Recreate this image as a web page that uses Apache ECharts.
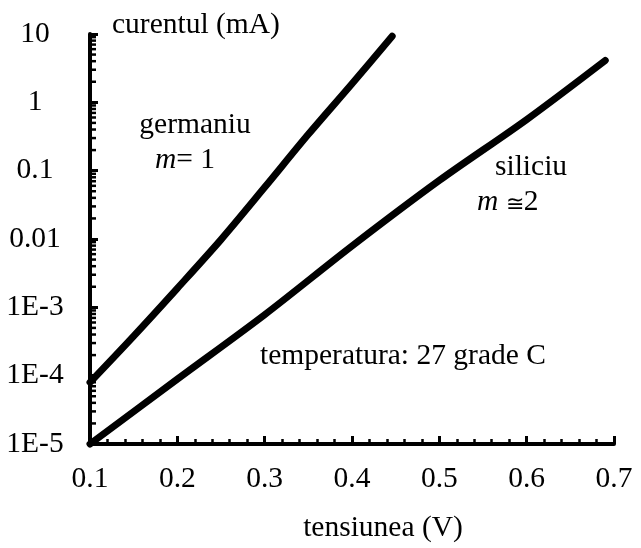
<!DOCTYPE html>
<html>
<head>
<meta charset="utf-8">
<script src="https://cdn.jsdelivr.net/npm/echarts@6/dist/echarts.min.js"></script>
<style>
  html, body { margin: 0; padding: 0; background: #fff; }
  #chart { width: 641px; height: 548px; }
</style>
</head>
<body>
<div id="chart"></div>
<script>
// tensiunea (V) pe x, curentul (mA) pe y (log)
var geX = [0.1, 0.15, 0.2, 0.25, 0.3, 0.35, 0.4, 0.446];
var geY = [8e-5, 3.8e-4, 1.9e-3, 9.8e-3, 0.057, 0.34, 1.87, 9.3];
var siX = [0.1, 0.2, 0.3, 0.4, 0.5, 0.6, 0.69];
var siY = [1e-5, 8.9e-5, 7.8e-4, 7.9e-3, 0.072, 0.56, 4.1];

// etichete axa y, dupa exponent
var yTickLabels = { '-5': '1E-5', '-4': '1E-4', '-3': '1E-3', '-2': '0.01', '-1': '0.1', '0': '1', '1': '10' };
var yDecades = [1e-5, 1e-4, 1e-3, 1e-2, 1e-1, 1];
var yMinorFactors = [2, 3, 4, 5, 6, 7, 8, 9];

var font = 'Liberation Serif';
var fs = 29.5;
var fontStr = fs + 'px "' + font + '"';

function pairs(xs, ys) {
    var out = [];
    for (var i = 0; i < xs.length; i++) {
        out.push([xs[i], ys[i]]);
    }
    return out;
}

var minorData = [];
for (var d = 0; d < yDecades.length; d++) {
    for (var k = 0; k < yMinorFactors.length; k++) {
        minorData.push([0.1, yDecades[d] * yMinorFactors[k]]);
    }
}

var chart = echarts.init(document.getElementById('chart'));

var lineStyle = { color: '#000', width: 7, cap: 'round', join: 'round' };

var option = {
    animation: false,
    grid: { left: 90, right: 27, top: 34, bottom: 104, containLabel: false },
    xAxis: {
        type: 'value',
        min: 0.1,
        max: 0.7,
        interval: 0.1,
        splitLine: { show: false },
        axisLine: { lineStyle: { color: '#000', width: 4 } },
        axisTick: { inside: true, length: 8, lineStyle: { color: '#000', width: 3 } },
        minorTick: { show: true, splitNumber: 5, length: 5, lineStyle: { color: '#000', width: 2.5 } },
        axisLabel: {
            margin: 20,
            color: '#000',
            fontFamily: font,
            fontSize: fs,
            formatter: function (v) { return v.toFixed(1); }
        }
    },
    yAxis: {
        type: 'log',
        logBase: 10,
        min: 1e-5,
        max: 10,
        interval: 1,
        splitLine: { show: false },
        axisLine: { lineStyle: { color: '#000', width: 4 } },
        axisTick: { inside: true, length: 8, lineStyle: { color: '#000', width: 3 } },
        axisLabel: {
            margin: 55,
            align: 'center',
            color: '#000',
            fontFamily: font,
            fontSize: fs,
            formatter: function (v) {
                return yTickLabels[String(Math.round(Math.log10(v)))];
            }
        }
    },
    series: [
        {
            name: 'germaniu',
            type: 'line',
            data: pairs(geX, geY),
            showSymbol: false,
            smooth: 0.3,
            clip: false,
            lineStyle: lineStyle
        },
        {
            name: 'siliciu',
            type: 'line',
            data: pairs(siX, siY),
            showSymbol: false,
            smooth: 0.3,
            clip: false,
            lineStyle: lineStyle
        },
        {
            // minor ticks pe axa log
            type: 'custom',
            silent: true,
            clip: false,
            data: minorData,
            encode: { x: 0, y: 1 },
            renderItem: function (params, api) {
                var p = api.coord([api.value(0), api.value(1)]);
                return {
                    type: 'line',
                    shape: { x1: p[0], y1: p[1], x2: p[0] + 6, y2: p[1] },
                    style: { stroke: '#000', lineWidth: 2.5 }
                };
            }
        }
    ],
    graphic: [
        { type: 'text', x: 112, y: 25, style: { text: 'curentul (mA)', font: fontStr, fill: '#000', align: 'left', verticalAlign: 'middle' } },
        { type: 'text', x: 195, y: 125, style: { text: 'germaniu', font: fontStr, fill: '#000', align: 'center', verticalAlign: 'middle' } },
        {
            type: 'text', x: 155, y: 160,
            style: {
                text: '{i|m}= 1', font: fontStr, fill: '#000', align: 'left', verticalAlign: 'middle',
                rich: { i: { fontStyle: 'italic', fontFamily: font, fontSize: fs } }
            }
        },
        { type: 'text', x: 495, y: 167, style: { text: 'siliciu', font: fontStr, fill: '#000', align: 'left', verticalAlign: 'middle' } },
        {
            type: 'text', x: 477, y: 202,
            style: {
                text: '{i|m} {s|\u2245}2', font: fontStr, fill: '#000', align: 'left', verticalAlign: 'middle',
                rich: {
                    i: { fontStyle: 'italic', fontFamily: font, fontSize: fs },
                    s: { fontFamily: 'DejaVu Serif', fontSize: 22, fontWeight: 'lighter', padding: [6, 0, 0, 0] }
                }
            }
        },
        { type: 'text', x: 260, y: 356, style: { text: 'temperatura: 27 grade C', font: fontStr, fill: '#000', align: 'left', verticalAlign: 'middle' } },
        { type: 'text', x: 383, y: 528, style: { text: 'tensiunea (V)', font: fontStr, fill: '#000', align: 'center', verticalAlign: 'middle' } }
    ]
};

chart.setOption(option);
</script>
</body>
</html>
